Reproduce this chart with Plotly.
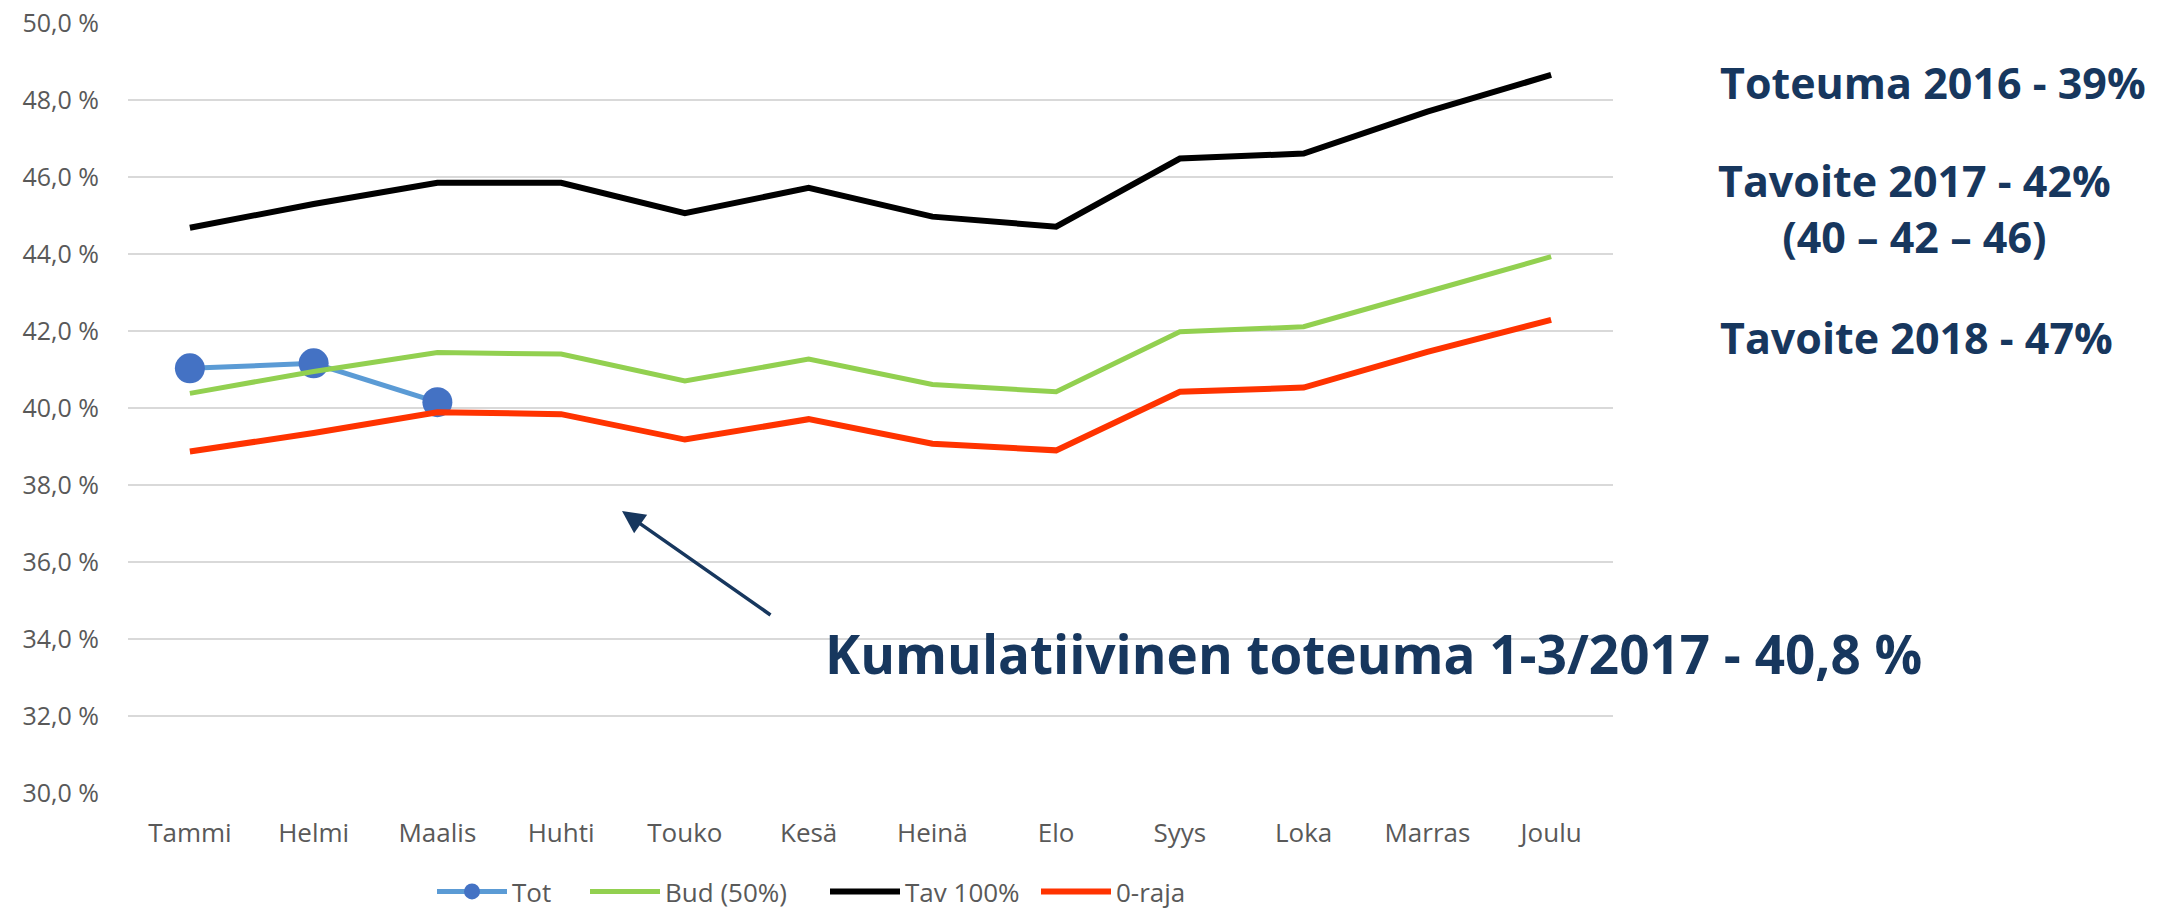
import plotly.graph_objects as go

W, H = 2169, 915

months = ["Tammi", "Helmi", "Maalis", "Huhti", "Touko", "Kesä", "Heinä", "Elo",
          "Syys", "Loka", "Marras", "Joulu"]
tot = [41.03, 41.16, 40.15]
bud = [40.38, 40.95, 41.44, 41.40, 40.70, 41.27, 40.61, 40.42, 41.98, 42.11, 43.02, 43.93]
tav = [44.68, 45.30, 45.85, 45.85, 45.06, 45.72, 44.97, 44.71, 46.48, 46.61, 47.70, 48.65]
raja = [38.87, 39.35, 39.89, 39.84, 39.18, 39.71, 39.07, 38.90, 40.42, 40.53, 41.46, 42.29]
y_ticks = [30, 32, 34, 36, 38, 40, 42, 44, 46, 48, 50]
y_labels = ["30,0 %", "32,0 %", "34,0 %", "36,0 %", "38,0 %", "40,0 %",
            "42,0 %", "44,0 %", "46,0 %", "48,0 %", "50,0 %"]

NAVY = "#17375E"
GREY = "#595959"


def px(x):
    return x / W


def py(y):
    return 1 - y / H


fig = go.Figure()
fig.add_trace(go.Scatter(x=months[:len(tot)], y=tot, name="Tot", mode="lines+markers",
                         line=dict(color="#5B9BD5", width=5),
                         marker=dict(color="#4472C4", size=30),
                         legend="legend", showlegend=True))
fig.add_trace(go.Scatter(x=months, y=bud, name="Bud (50%)", mode="lines",
                         line=dict(color="#92D050", width=5),
                         legend="legend2", showlegend=True))
fig.add_trace(go.Scatter(x=months, y=tav, name="Tav 100%", mode="lines",
                         line=dict(color="#000000", width=6),
                         legend="legend3", showlegend=True))
fig.add_trace(go.Scatter(x=months, y=raja, name="0-raja", mode="lines",
                         line=dict(color="#FF3300", width=6),
                         legend="legend4", showlegend=True))

ann_font = dict(family="Open Sans", color=NAVY)

annotations = [
    dict(text="<b>Kumulatiivinen toteuma 1-3/2017 - 40,8 %</b>", x=px(823), y=py(653),
         xanchor="left", yanchor="middle", font=dict(size=53, **ann_font)),
    dict(text="<b>Toteuma 2016 - 39%</b>", x=px(1718), y=py(82),
         xanchor="left", yanchor="middle", font=dict(size=43, **ann_font)),
    dict(text="<b>Tavoite 2017 - 42%<br>(40 – 42 – 46)</b>", x=px(1914), y=py(208),
         xanchor="center", yanchor="middle", align="center",
         font=dict(size=43, **ann_font)),
    dict(text="<b>Tavoite 2018 - 47%</b>", x=px(1718), y=py(338),
         xanchor="left", yanchor="middle", font=dict(size=43, **ann_font)),
    dict(text="", x=px(622), y=py(511),
         ax=150, ay=105, showarrow=True, arrowhead=2, arrowsize=1.3,
         arrowwidth=3.5, arrowcolor=NAVY),
]
for a in annotations:
    a.setdefault("xref", "paper")
    a.setdefault("yref", "paper")
    a.setdefault("showarrow", False)


def legend_at(x_px):
    return dict(orientation="h", x=px(x_px), xanchor="left", y=0, yanchor="bottom",
                font=dict(family="Open Sans", size=26, color=GREY),
                bgcolor="rgba(0,0,0,0)", itemwidth=70, visible=True)


fig.update_layout(
    width=W, height=H,
    showlegend=True,
    margin=dict(l=0, r=0, t=0, b=0, autoexpand=False),
    paper_bgcolor="white", plot_bgcolor="white",
    font=dict(family="Open Sans", size=26, color=GREY),
    xaxis=dict(domain=[px(128), px(1613)], type="category",
               categoryorder="array", categoryarray=months,
               range=[-0.5, len(months) - 0.5], automargin=False,
               showgrid=False, zeroline=False, showline=False, ticks="",
               ticklabelstandoff=22,
               tickfont=dict(family="Open Sans", size=26, color=GREY)),
    yaxis=dict(domain=[py(793), py(23)], range=[30, 50], automargin=False,
               tickmode="array", tickvals=y_ticks, ticktext=y_labels,
               showgrid=True, gridcolor="#D9D9D9", gridwidth=1.5,
               zeroline=False, showline=False, ticks="",
               ticklabelstandoff=28,
               tickfont=dict(family="Open Sans", size=25, color=GREY)),
    legend=legend_at(432),
    legend2=legend_at(585),
    legend3=legend_at(825),
    legend4=legend_at(1036),
    annotations=annotations,
)

fig.write_html("out.html", config={"displayModeBar": False},
               post_script="document.body.style.margin='0';")
